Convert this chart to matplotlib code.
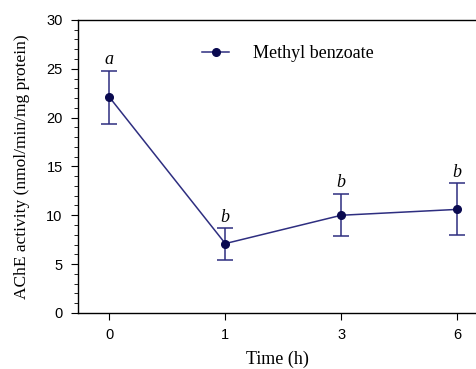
import matplotlib.pyplot as plt
from matplotlib.lines import Line2D
from matplotlib.ticker import MultipleLocator

# data
times = ['0', '1', '3', '6']
activity = [22.1, 7.1, 10.0, 10.6]
err_up = [2.7, 1.6, 2.2, 2.7]
err_low = [2.8, 1.7, 2.1, 2.6]
letters = ['a', 'b', 'b', 'b']

line_col = '#2e2e80'
mark_col = '#0a0a50'

fig = plt.figure(figsize=(4.77, 3.69), dpi=100)
ax = fig.add_axes([0.1635, 0.152, 0.8365, 0.794])

pos = list(range(len(times)))
ax.errorbar(pos, activity, yerr=[err_low, err_up], color=line_col, lw=1.1,
            marker='o', ms=5.5, mfc=mark_col, mec=mark_col,
            capsize=6, capthick=1.1, elinewidth=1.1)

for p, v, e, s in zip(pos, activity, err_up, letters):
    ax.text(p, v + e + 0.25, s, ha='center', va='bottom', fontsize=13,
            family='Liberation Serif', style='italic')

ax.set_xlim(-0.27, 3.17)
ax.set_ylim(0, 30)
ax.set_xticks(pos)
ax.set_xticklabels(times)
ax.yaxis.set_major_locator(MultipleLocator(5))
ax.yaxis.set_minor_locator(MultipleLocator(1))
ax.spines['right'].set_visible(False)
for s in ax.spines.values():
    s.set_linewidth(1.0)

ax.tick_params(axis='both', which='major', length=5, labelsize=10.5, pad=6)
ax.tick_params(axis='y', which='minor', length=3)
for lab in ax.get_xticklabels() + ax.get_yticklabels():
    lab.set_family('Liberation Sans')

ax.set_xlabel('Time (h)', family='Liberation Serif', fontsize=13, labelpad=6)
ax.set_ylabel('AChE activity (nmol/min/mg protein)', family='Liberation Serif',
              fontsize=12.5, labelpad=12)

handle = Line2D([], [], color=line_col, lw=1.1, marker='o', ms=5.5,
                mfc=mark_col, mec=mark_col)
ax.legend([handle], ['Methyl benzoate'], loc='upper left',
          bbox_to_anchor=(0.27, 0.97), frameon=False,
          prop={'family': 'Liberation Serif', 'size': 13}, handlelength=1.5,
          handletextpad=1.3)

fig.savefig('out.png', dpi=100)
